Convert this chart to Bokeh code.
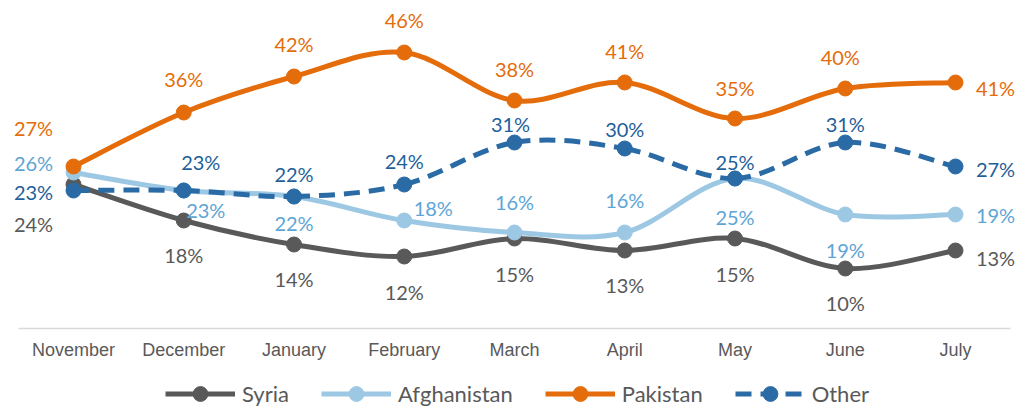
from bokeh.plotting import figure
from bokeh.layouts import column
from bokeh.models import ColumnDataSource, Range1d, Legend, LegendItem, FixedTicker
from bokeh.embed import file_html
from bokeh.resources import INLINE
from bokeh.core.properties import value

months = ["November", "December", "January", "February", "March",
          "April", "May", "June", "July"]
syria = [24, 18, 14, 12, 15, 13, 15, 10, 13]
afghanistan = [26, 23, 22, 18, 16, 16, 25, 19, 19]
pakistan = [27, 36, 42, 46, 38, 41, 35, 40, 41]
other = [23, 23, 22, 24, 31, 30, 25, 31, 27]

# label offsets (screen px) per point
syria_dx = [-40, 0, 0, 0, 0, 0, 0, 0, 40]
syria_dy = [39, 34, 34, 35, 35, 34, 35, 34, 7]
afg_dx = [-40, 22, 0, 29, 0, 0, 0, 0, 40]
afg_dy = [-10, 19, 26, -13, -31, -33, 38, 35, 0]
pak_dx = [-40, 0, 0, 0, 0, 0, 0, -5, 40]
pak_dy = [-39, -34, -33, -33, -32, -32, -31, -32, 5]
oth_dx = [-40, 17, 0, 0, -4, 0, 0, 0, 40]
oth_dy = [1, -29, -23, -24, -19, -20, -17, -19, 2]

xs = list(range(len(months)))
STEP = 110.25  # px per category

p = figure(width=1019, height=368, output_backend="svg", toolbar_location=None,
           x_range=Range1d(-73 / STEP, 8 + 64 / STEP), y_range=Range1d(0, 318 / 6.0),
           min_border_left=0, min_border_right=0, min_border_top=10,
           min_border_bottom=40, outline_line_color=None,
           background_fill_color="white", border_fill_color="white")
p.grid.visible = False
p.yaxis.visible = False

ax = p.xaxis[0]
ax.ticker = FixedTicker(ticks=xs)
ax.bounds = (-0.5, 8.5)
ax.major_label_overrides = {i: m for i, m in enumerate(months)}
ax.major_tick_line_color = None
ax.minor_tick_line_color = None
ax.axis_line_color = "#D9D9D9"
ax.axis_line_width = 1.5
ax.major_label_text_font = "Liberation Sans"
ax.major_label_text_font_size = "18px"
ax.major_label_text_color = "#595959"
ax.major_label_standoff = 5


def bezier_source(ys):
    n = len(ys)
    d = dict(x0=[], y0=[], x1=[], y1=[], cx0=[], cy0=[], cx1=[], cy1=[])
    for i in range(n - 1):
        a = i - 1 if i > 0 else i
        b = i + 2 if i + 2 < n else i + 1
        d["x0"].append(xs[i]); d["y0"].append(ys[i])
        d["x1"].append(xs[i + 1]); d["y1"].append(ys[i + 1])
        d["cx0"].append(xs[i] + (xs[i + 1] - xs[a]) / 6.0)
        d["cy0"].append(ys[i] + (ys[i + 1] - ys[a]) / 6.0)
        d["cx1"].append(xs[i + 1] - (xs[b] - xs[i]) / 6.0)
        d["cy1"].append(ys[i + 1] - (ys[b] - ys[i]) / 6.0)
    return ColumnDataSource(d)


series = [
    ("Syria", syria, "#595959", "#595959", "solid", syria_dx, syria_dy),
    ("Afghanistan", afghanistan, "#9DC8E4", "#5DA5D5", "solid", afg_dx, afg_dy),
    ("Pakistan", pakistan, "#E46C0A", "#E46C0A", "solid", pak_dx, pak_dy),
    ("Other", other, "#2A6BA6", "#1F5F9A", "16 9", oth_dx, oth_dy),
]

for name, ys, col, lcol, dash, dx, dy in series:
    p.bezier(x0="x0", y0="y0", x1="x1", y1="y1", cx0="cx0", cy0="cy0",
             cx1="cx1", cy1="cy1", source=bezier_source(ys),
             line_color=col, line_width=5, line_dash=dash, line_cap="butt")
    p.scatter(xs, ys, size=15, fill_color=col, line_color=col)

for name, ys, col, lcol, dash, dx, dy in series:
    src = ColumnDataSource(dict(x=xs, y=ys, t=["%d%%" % v for v in ys], dx=dx, dy=dy))
    p.text(x="x", y="y", text="t", source=src, x_offset="dx", y_offset="dy",
           text_align="center", text_baseline="middle",
           text_font=value("Lato"), text_font_size="20px", text_color=lcol)

# legend strip below the chart
lf = figure(width=1019, height=40, output_backend="svg", toolbar_location=None,
            x_range=Range1d(0, 1), y_range=Range1d(0, 1),
            min_border_left=0, min_border_right=0, min_border_top=0,
            min_border_bottom=0, outline_line_color=None,
            background_fill_color="white", border_fill_color="white")
lf.axis.visible = False
lf.grid.visible = False
items = []
for name, ys, col, lcol, dash, dx, dy in series:
    # proxy renderers placed outside the visible range, used only for the legend
    lr = lf.line([-5, -4], [-5, -5], line_color=col, line_width=5, line_dash=dash)
    sr = lf.scatter([-5], [-5], size=15, fill_color=col, line_color=col)
    items.append(LegendItem(label=name, renderers=[lr, sr]))
legend = Legend(items=items, orientation="horizontal", location=(165, -4),
                glyph_width=70, glyph_height=37, label_standoff=7, spacing=32,
                padding=0, margin=0, border_line_color=None,
                background_fill_alpha=0,
                label_text_font="Lato", label_text_font_size="22px",
                label_text_color="#595959", label_height=20)
lf.add_layout(legend, "center")

layout = column(p, lf, spacing=0)
open("out.html", "w").write(file_html(layout, INLINE))
